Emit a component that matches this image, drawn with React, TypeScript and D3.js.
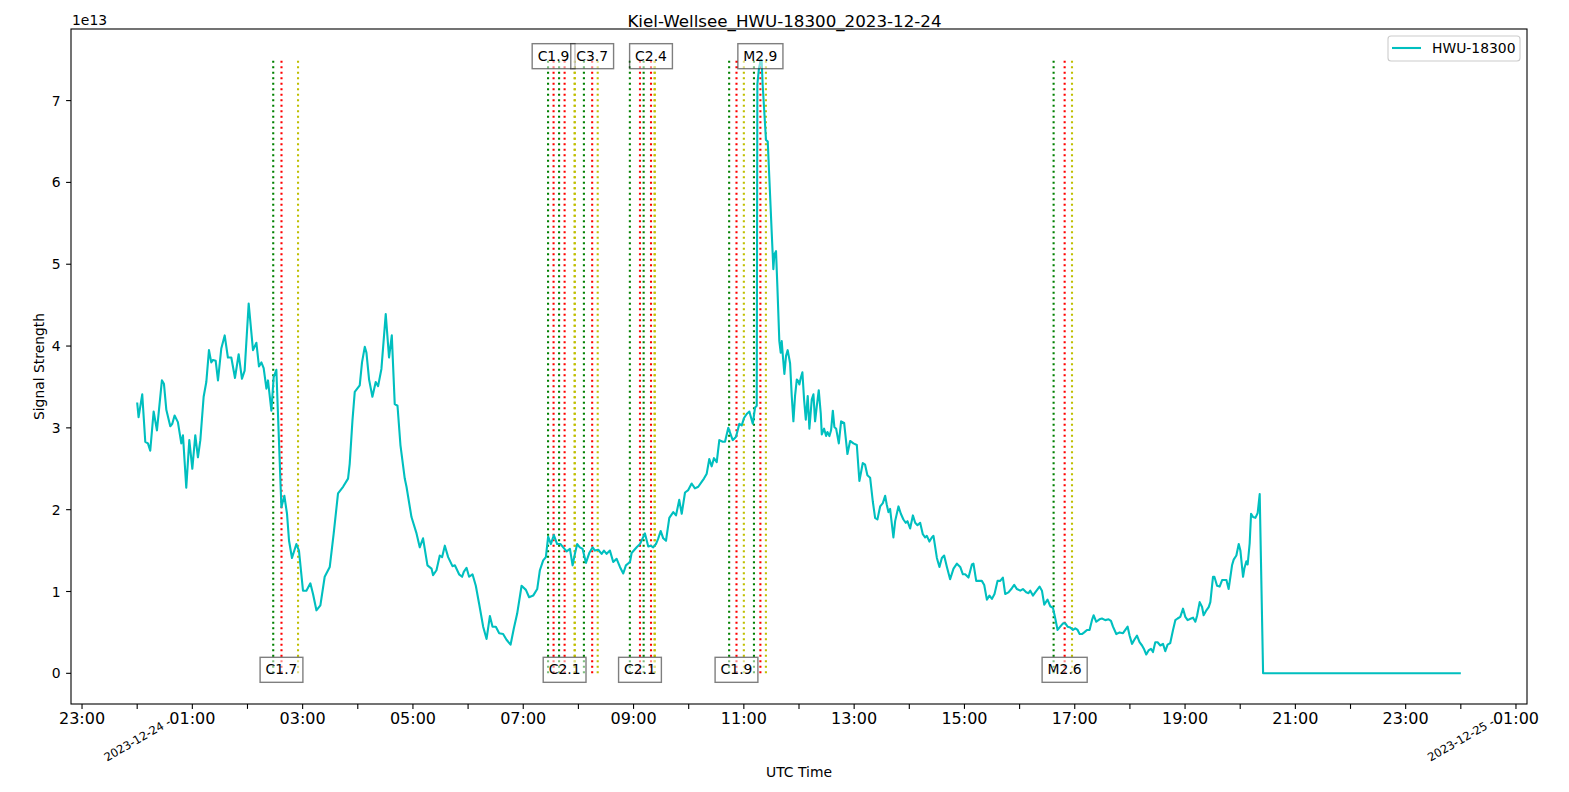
import React, { useEffect, useRef } from 'react';
import * as d3 from 'd3';

// minutes after 2023-12-24 00:00 UTC
const times: number[] = [
  0, 1.5, 5.5, 8.8, 11.7, 14.2, 17.9, 21.5, 26.9, 29.1, 31.7, 36, 38.2, 40.7, 44.3, 48, 49.8, 53.4, 56.7, 60,
  63.2, 66.1, 68.7, 72.3, 75.2, 78.1, 80.6, 82.4, 85.4, 87.9, 91.5, 95.2, 98.7, 102.4, 106.4, 110.4, 114, 116.9, 121.3, 126,
  129.7, 132.5, 135.1, 137.6, 140.6, 142.3, 146, 148.5, 151.4, 156.9, 160.1, 163, 165.2, 168.4, 173.2, 176, 180.4, 184.1, 188.4, 191.3,
  195, 199.3, 204, 209.5, 213.8, 218.5, 224, 229.4, 231.2, 234.2, 236.7, 242.1, 244.6, 247.6, 249.4, 252.3, 255.9, 259.5, 262.1, 265.7,
  270.4, 274, 277, 280.2, 283.2, 286.4, 291.1, 293, 298.4, 303.9, 307.4, 311, 315.8, 320.2, 321.9, 325.6, 329.2, 331.7, 334.7, 338.3,
  343, 345.6, 350.2, 353.5, 355.3, 358.3, 361.1, 364.8, 368.4, 372, 376.4, 380.1, 383.7, 386.6, 390.2, 393.8, 398.1, 401.8, 406.2, 409.8,
  413.4, 418.2, 422.9, 426.4, 430.8, 435.2, 438.1, 441.7, 444.6, 447.1, 450.1, 453.3, 456.9, 460.6, 463.5, 467.2, 470.8, 473.7, 476.2, 478.7,
  481.6, 484.6, 488.2, 491.8, 495.5, 498, 501.6, 505.3, 507.8, 510.7, 514.3, 517.9, 521.6, 525.2, 528.8, 531.7, 536.1, 537.9, 543.4, 547,
  552.4, 556, 558.6, 561.4, 564.4, 566.9, 569.5, 572.3, 575.3, 578.9, 583.2, 586.2, 589.7, 592.4, 596, 599.5, 603.2, 606.8, 610.4, 614.1,
  616.6, 619.6, 622.4, 625, 627.5, 630.5, 633.3, 637, 639.5, 643.1, 647.9, 651.5, 655.1, 657.7, 660.2, 663.1, 666, 669.7, 672.2, 674,
  674.7, 676.5, 678.7, 679.4, 680.5, 683, 684.1, 686, 687.7, 690.3, 692.1, 693.2, 695, 696.5, 698.6, 700.1, 701.2, 702.3, 704.1, 705.9,
  707.7, 710.3, 712.1, 713.9, 715.7, 717.6, 719.3, 720.4, 721.9, 723.7, 725.5, 727.4, 729.5, 731.3, 733.9, 735.7, 737.5, 739.3, 741.5, 743.7,
  744.8, 747.3, 749.5, 750.9, 753.1, 754.9, 756.8, 758.5, 760.4, 763.3, 765.8, 769.1, 772.7, 775.6, 779.2, 782.9, 785.7, 789.4, 791.9, 794.4,
  797.4, 800.3, 802.8, 805.3, 808.3, 811.2, 813.7, 815.5, 817.3, 819.1, 822.7, 824.6, 828.2, 830.8, 833.6, 836.2, 838, 840.9, 843.9, 846.4,
  848.9, 851.8, 854.7, 857.2, 859.1, 861.9, 864.5, 866.3, 870, 872.8, 875.4, 877.9, 880.9, 884.4, 888.1, 891.8, 895.4, 898.3, 900.8, 904.4,
  908.1, 909.8, 912.8, 916.4, 918.9, 921.5, 924.4, 927.2, 929.9, 932.7, 936, 938.9, 941.8, 944.3, 947.9, 951.6, 954.1, 957.1, 960.7, 963.6,
  967.2, 969.7, 971.6, 974.5, 977, 981.7, 984.3, 986.8, 990.4, 993.3, 996.3, 998.8, 1001.3, 1004.2, 1007.2, 1009.7, 1012.2, 1015.1, 1018, 1020.6,
  1023.1, 1025.3, 1027.8, 1030.3, 1033.3, 1036.1, 1038.7, 1040.5, 1043.4, 1046.9, 1049.6, 1053.2, 1056.8, 1059.4, 1061.6, 1065.2, 1068.8, 1072.5, 1075, 1077.5,
  1079.7, 1082.3, 1084.8, 1087.7, 1090.5, 1093.2, 1095.6, 1097.8, 1100.3, 1102.9, 1105.1, 1107.6, 1110.1, 1113.1, 1116, 1118.5, 1121, 1123.9, 1126.9, 1129.4,
  1131.9, 1134.8, 1137.8, 1140.3, 1142.8, 1146.5, 1148.7, 1151.2, 1153, 1155.9, 1158.5, 1160.2, 1163.2, 1165.7, 1167.5, 1170.4, 1171.9, 1174.8, 1177.6, 1180.3,
  1182.8, 1185, 1187.4, 1191.1, 1192.9, 1195.8, 1198.4, 1200.2, 1203.1, 1204.5, 1206.7, 1208.1, 1210.3, 1211.8, 1214, 1216.5, 1219, 1221.2, 1224.9, 1440,
];

// signal strength, in units of 1e13
const values: number[] = [
  3.31, 3.13, 3.41, 2.83, 2.81, 2.72, 3.2, 2.97, 3.58, 3.54, 3.22, 3.02, 3.05, 3.15, 3.07, 2.81, 2.91, 2.27, 2.85, 2.5,
  2.91, 2.64, 2.85, 3.38, 3.56, 3.95, 3.8, 3.83, 3.82, 3.58, 3.97, 4.13, 3.86, 3.86, 3.61, 3.9, 3.6, 3.7, 4.52, 3.95,
  4.04, 3.75, 3.8, 3.73, 3.48, 3.58, 3.21, 3.62, 3.71, 2.03, 2.17, 1.95, 1.62, 1.41, 1.58, 1.5, 1.01, 1.01, 1.1, 0.97,
  0.77, 0.83, 1.18, 1.3, 1.71, 2.2, 2.28, 2.38, 2.56, 3.09, 3.44, 3.52, 3.8, 3.99, 3.92, 3.59, 3.38, 3.56, 3.51, 3.72,
  4.39, 3.86, 4.13, 3.29, 3.27, 2.79, 2.38, 2.28, 1.91, 1.71, 1.54, 1.65, 1.32, 1.28, 1.2, 1.26, 1.44, 1.42, 1.56, 1.42,
  1.31, 1.32, 1.21, 1.18, 1.24, 1.29, 1.18, 1.21, 1.07, 0.85, 0.57, 0.42, 0.7, 0.57, 0.57, 0.49, 0.48, 0.41, 0.35, 0.55,
  0.73, 1.07, 1.02, 0.93, 0.95, 1.03, 1.26, 1.38, 1.42, 1.67, 1.58, 1.69, 1.58, 1.58, 1.54, 1.49, 1.52, 1.32, 1.46, 1.58,
  1.54, 1.52, 1.35, 1.47, 1.54, 1.5, 1.51, 1.46, 1.5, 1.46, 1.5, 1.36, 1.4, 1.3, 1.22, 1.32, 1.36, 1.47, 1.54, 1.58,
  1.71, 1.55, 1.56, 1.54, 1.58, 1.65, 1.74, 1.65, 1.62, 1.9, 1.97, 1.93, 2.12, 1.95, 2.21, 2.24, 2.32, 2.26, 2.28, 2.34,
  2.38, 2.44, 2.62, 2.53, 2.63, 2.58, 2.85, 2.83, 2.83, 3.0, 2.85, 2.89, 3.05, 3.03, 3.12, 3.17, 3.2, 3.05, 3.25, 3.27,
  7.2, 7.4, 7.5, 7.48, 7.19, 6.72, 6.52, 6.5, 6.06, 5.39, 4.94, 5.12, 5.16, 4.72, 4.06, 3.92, 4.06, 3.9, 3.66, 3.88,
  3.95, 3.79, 3.39, 3.08, 3.39, 3.59, 3.57, 3.53, 3.61, 3.68, 3.35, 3.1, 3.39, 2.99, 3.35, 3.41, 3.08, 3.26, 3.46, 3.17,
  2.92, 2.99, 2.9, 2.95, 2.9, 2.97, 3.21, 3.01, 2.99, 2.81, 3.08, 3.06, 2.68, 2.84, 2.81, 2.79, 2.35, 2.57, 2.55, 2.42,
  2.39, 2.1, 1.9, 1.88, 2.04, 2.08, 2.17, 2.06, 1.97, 2.01, 1.66, 1.86, 2.04, 1.95, 1.88, 1.84, 1.86, 1.77, 1.93, 1.84,
  1.81, 1.84, 1.7, 1.66, 1.68, 1.61, 1.66, 1.68, 1.41, 1.3, 1.41, 1.44, 1.3, 1.15, 1.28, 1.34, 1.3, 1.21, 1.21, 1.17,
  1.33, 1.34, 1.13, 1.13, 1.13, 1.08, 0.9, 0.95, 0.91, 0.97, 1.13, 1.13, 1.17, 0.97, 0.99, 1.04, 1.08, 1.03, 1.01, 1.03,
  0.99, 0.98, 1.01, 0.95, 0.99, 1.06, 1.01, 0.84, 0.9, 0.82, 0.8, 0.67, 0.53, 0.57, 0.61, 0.61, 0.57, 0.56, 0.53, 0.55,
  0.53, 0.48, 0.48, 0.5, 0.53, 0.53, 0.65, 0.71, 0.63, 0.66, 0.67, 0.65, 0.66, 0.64, 0.57, 0.48, 0.5, 0.49, 0.53, 0.57,
  0.46, 0.36, 0.41, 0.46, 0.38, 0.34, 0.29, 0.23, 0.28, 0.3, 0.26, 0.38, 0.38, 0.34, 0.36, 0.27, 0.35, 0.37, 0.53, 0.65,
  0.67, 0.69, 0.79, 0.69, 0.65, 0.67, 0.68, 0.63, 0.7, 0.87, 0.81, 0.71, 0.77, 0.81, 0.87, 1.18, 1.18, 1.07, 1.06, 1.14,
  1.14, 1.14, 1.03, 1.32, 1.39, 1.44, 1.58, 1.5, 1.18, 1.28, 1.37, 1.33, 1.59, 1.95, 1.91, 1.9, 1.96, 2.19, 0, 0,
];

const flareClasses = ['C1.7', 'C1.9', 'C2.1', 'C3.7', 'C2.1', 'C2.4', 'C1.9', 'M2.9', 'M2.6'];
const flareStart = ['02:28', '07:27', '07:39', '08:06', '08:56', '09:11', '10:44', '11:11', '16:37'];
const flarePeak = ['02:37', '07:33', '07:45', '08:15', '09:07', '09:19', '10:52', '11:18', '16:49'];
const flareEnd = ['02:55', '07:56', '07:56', '08:21', '09:23', '09:23', '11:00', '11:24', '16:57'];

// hour ticks relative to 2023-12-24 00:00
const tickHours = d3.range(-1, 26);
const labelHours = [-1, 1, 3, 5, 7, 9, 11, 13, 15, 17, 19, 21, 23, 25];
const hourLabels = ['23:00', '01:00', '03:00', '05:00', '07:00', '09:00', '11:00', '13:00', '15:00', '17:00', '19:00', '21:00', '23:00', '01:00'];
const dateHours = [0, 24];
const dateLabels = ['2023-12-24 -', '2023-12-25 -'];
const yTicks = [0, 1, 2, 3, 4, 5, 6, 7];

const EXP = 1e13;
const FLARE_TOP = 7.5;
const FONT = 'DejaVu Sans, sans-serif';

const toMin = (s: string) => +s.slice(0, 2) * 60 + +s.slice(3, 5);

export default function App() {
  const svgRef = useRef<SVGSVGElement>(null);

  useEffect(() => {
    if (!svgRef.current) return;
    const svg = d3.select(svgRef.current);
    svg.selectAll('*').remove();

    const left = 71, right = 1527, top = 29, bottom = 704;

    const tMin = d3.min(times)!, tMax = d3.max(times)!;
    const tPad = (tMax - tMin) * 0.05;
    const x = d3.scaleLinear().domain([tMin - tPad, tMax + tPad]).range([left, right]);

    const vMax = Math.max(FLARE_TOP, d3.max(values)!) * EXP;
    const vMin = Math.min(0, d3.min(values)!) * EXP;
    const vPad = (vMax - vMin) * 0.05;
    const y = d3.scaleLinear().domain([vMin - vPad, vMax + vPad]).range([bottom, top]);

    svg.append('rect').attr('width', 1569).attr('height', 792).attr('fill', '#fff');

    const plot = svg.append('g');

    // flare markers: start, peak, end
    const flareColors = ['#008000', '#ff0000', '#bfbf00'];
    flareClasses.forEach((_, i) => {
      [flareStart[i], flarePeak[i], flareEnd[i]].forEach((t, k) => {
        plot.append('line')
          .attr('x1', x(toMin(t)))
          .attr('x2', x(toMin(t)))
          .attr('y1', y(0))
          .attr('y2', y(FLARE_TOP * EXP))
          .attr('stroke', flareColors[k])
          .attr('stroke-width', 2.1)
          .attr('stroke-dasharray', '2.1 3.4');
      });
    });

    // signal line
    const line = d3.line<number>()
      .x((_, i) => x(times[i]))
      .y(d => y(d * EXP));
    plot.append('path')
      .datum(values)
      .attr('d', line)
      .attr('fill', 'none')
      .attr('stroke', '#00bfbf')
      .attr('stroke-width', 2.1)
      .attr('stroke-linejoin', 'round');

    // flare class labels, alternating bottom / top
    flareClasses.forEach((c, i) => {
      const cx = x(toMin(flarePeak[i]));
      const cy = i % 2 === 1 ? y(FLARE_TOP * EXP) : y(0);
      const g = plot.append('g');
      const rect = g.append('rect');
      const txt = g.append('text')
        .attr('x', cx)
        .attr('y', cy + 1)
        .attr('text-anchor', 'middle')
        .style('font-family', FONT)
        .style('font-size', '13.9px')
        .text(c);
      const w = (txt.node() as SVGTextElement).getComputedTextLength() + 11;
      rect.attr('x', cx - w / 2)
        .attr('y', cy - 16)
        .attr('width', w)
        .attr('height', 25)
        .attr('fill', 'rgba(255,255,255,0.5)')
        .attr('stroke', 'rgba(0,0,0,0.5)')
        .attr('stroke-width', 1.4);
    });

    // axes frame
    svg.append('rect')
      .attr('x', left).attr('y', top)
      .attr('width', right - left).attr('height', bottom - top)
      .attr('fill', 'none').attr('stroke', '#000').attr('stroke-width', 1.1);

    // y axis
    const yAxis = svg.append('g');
    yTicks.forEach(v => {
      const yy = y(v * EXP);
      yAxis.append('line').attr('x1', left - 4.9).attr('x2', left).attr('y1', yy).attr('y2', yy)
        .attr('stroke', '#000').attr('stroke-width', 1.1);
      yAxis.append('text').attr('x', left - 10.5).attr('y', yy + 5)
        .attr('text-anchor', 'end')
        .style('font-family', FONT).style('font-size', '13.9px')
        .text(String(v));
    });
    svg.append('text').attr('x', 72).attr('y', 25)
      .style('font-family', FONT).style('font-size', '13.9px').text('1e13');

    // x axis
    const xAxis = svg.append('g');
    tickHours.forEach(h => {
      const xx = x(h * 60);
      xAxis.append('line').attr('x1', xx).attr('x2', xx).attr('y1', bottom).attr('y2', bottom + 4.9)
        .attr('stroke', '#000').attr('stroke-width', 1.1);
    });
    labelHours.forEach((h, i) => {
      xAxis.append('text').attr('x', x(h * 60)).attr('y', 724)
        .attr('text-anchor', 'middle')
        .style('font-family', FONT).style('font-size', '16px')
        .text(hourLabels[i]);
    });
    dateHours.forEach((h, i) => {
      xAxis.append('text')
        .attr('transform', `translate(${x(h * 60)},739.5) rotate(-30)`)
        .attr('text-anchor', 'middle')
        .attr('dy', '0.35em')
        .style('font-family', FONT).style('font-size', '11.5px')
        .text(dateLabels[i]);
    });

    // labels and title
    svg.append('text').attr('x', (left + right) / 2).attr('y', 777)
      .attr('text-anchor', 'middle')
      .style('font-family', FONT).style('font-size', '13.9px').text('UTC Time');
    svg.append('text')
      .attr('transform', `translate(44,${(top + bottom) / 2}) rotate(-90)`)
      .attr('text-anchor', 'middle')
      .style('font-family', FONT).style('font-size', '13.9px').text('Signal Strength');
    svg.append('text').attr('x', 784.5).attr('y', 27.3)
      .attr('text-anchor', 'middle')
      .style('font-family', FONT).style('font-size', '16.7px').text('Kiel-Wellsee_HWU-18300_2023-12-24');

    // legend
    const lg = svg.append('g');
    lg.append('rect').attr('x', 1388).attr('y', 36).attr('width', 132).attr('height', 25).attr('rx', 3)
      .attr('fill', 'rgba(255,255,255,0.8)').attr('stroke', '#cccccc').attr('stroke-width', 1.1);
    lg.append('line').attr('x1', 1392).attr('x2', 1421).attr('y1', 48).attr('y2', 48)
      .attr('stroke', '#00bfbf').attr('stroke-width', 2.1);
    lg.append('text').attr('x', 1432).attr('y', 52.5)
      .style('font-family', FONT).style('font-size', '13.9px').text('HWU-18300');
  }, []);

  return (
    <svg
      ref={svgRef}
      width={1569}
      height={792}
      style={{ position: 'absolute', left: 0, top: 0, display: 'block' }}
    />
  );
}
